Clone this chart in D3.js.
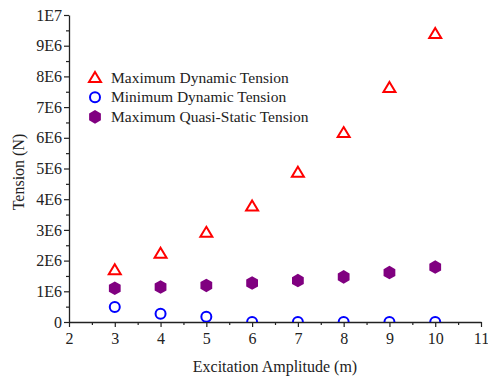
<!DOCTYPE html>
<html>
<head>
<meta charset="utf-8">
<script src="https://cdn.jsdelivr.net/npm/d3@7"></script>
<style>
  body { margin: 0; background: #fff; }
  text { font-family: "Liberation Serif", "Times New Roman", serif; fill: #222; }
</style>
</head>
<body>
<div id="chart"></div>
<script>
// Data
const amplitude = [3, 4, 5, 6, 7, 8, 9, 10];
const maxDynamic = [1.70e6, 2.24e6, 2.92e6, 3.78e6, 4.88e6, 6.17e6, 7.64e6, 9.40e6];
const minDynamic = [0.49e6, 0.27e6, 0.17e6, 0, 0, 0, 0, 0];
const maxQuasiStatic = [1.10e6, 1.14e6, 1.19e6, 1.27e6, 1.35e6, 1.47e6, 1.61e6, 1.79e6];
const seriesNames = ["Maximum Dynamic Tension", "Minimum Dynamic Tension", "Maximum Quasi-Static Tension"];
const xTicks = [2, 3, 4, 5, 6, 7, 8, 9, 10, 11];
const yTicks = [0, 1e6, 2e6, 3e6, 4e6, 5e6, 6e6, 7e6, 8e6, 9e6, 1e7];
const yTickLabels = ["0", "1E6", "2E6", "3E6", "4E6", "5E6", "6E6", "7E6", "8E6", "9E6", "1E7"];

const width = 488, height = 378;
const margin = { top: 15, right: 7, bottom: 56, left: 69 };

const svg = d3.select("#chart")
    .append("svg")
    .attr("width", width)
    .attr("height", height);

const xScale = d3.scaleLinear()
    .domain([2, 11])
    .range([margin.left, width - margin.right]);

const yScale = d3.scaleLinear()
    .domain([0, 1e7])
    .range([height - margin.bottom, margin.top]);

// clip so points sitting on zero are cut by the axis
svg.append("clipPath").attr("id", "plot-clip")
    .append("rect")
    .attr("x", margin.left)
    .attr("y", margin.top - 10)
    .attr("width", width - margin.left - margin.right + 10)
    .attr("height", height - margin.bottom - margin.top + 10);

// minor ticks
const xMinor = d3.range(2.5, 11, 1);
const yMinor = d3.range(0.5e6, 1e7, 1e6);

svg.append("g")
    .attr("transform", `translate(0, ${yScale(0)})`)
    .call(d3.axisBottom(xScale).tickValues(xMinor).tickSize(3).tickFormat(""))
    .call(g => g.select(".domain").remove());

svg.append("g")
    .attr("transform", `translate(${margin.left}, 0)`)
    .call(d3.axisLeft(yScale).tickValues(yMinor).tickSize(3).tickFormat(""))
    .call(g => g.select(".domain").remove());

// major axes
const xAxis = svg.append("g")
    .attr("transform", `translate(0, ${yScale(0)})`)
    .call(d3.axisBottom(xScale).tickValues(xTicks).tickSize(5).tickSizeOuter(0).tickPadding(6).tickFormat(d3.format("d")));
xAxis.selectAll("text").style("font-size", "16px").attr("font-family", null);

const yAxis = svg.append("g")
    .attr("transform", `translate(${margin.left}, 0)`)
    .call(d3.axisLeft(yScale).tickValues(yTicks).tickSize(5).tickSizeOuter(0).tickPadding(2)
        .tickFormat((d, i) => yTickLabels[i]));
yAxis.selectAll("text").style("font-size", "16px").attr("font-family", null);

svg.selectAll(".domain").attr("stroke", "#222").attr("stroke-width", 1.3);
svg.selectAll(".tick line").attr("stroke", "#222").attr("stroke-width", 1.2);

// axis titles
svg.append("text")
    .attr("x", (xScale(2) + xScale(11)) / 2)
    .attr("y", 372)
    .style("text-anchor", "middle")
    .style("font-size", "16px")
    .text("Excitation Amplitude (m)");

svg.append("text")
    .attr("transform", "rotate(-90)")
    .attr("x", -172)
    .attr("y", 24)
    .style("text-anchor", "middle")
    .style("font-size", "16px")
    .text("Tension (N)");

// marker shapes
const triangle = "M0,-5.5L6,4.5L-6,4.5Z";
const hexR = 6.8;
const hexagon = d3.line()(d3.range(6).map(k => {
    const a = (-90 + 60 * k) * Math.PI / 180;
    return [hexR * Math.cos(a), hexR * Math.sin(a)];
})) + "Z";

const plot = svg.append("g").attr("clip-path", "url(#plot-clip)");

plot.selectAll(".quasi")
    .data(amplitude)
    .enter()
    .append("path")
    .attr("class", "quasi")
    .attr("d", hexagon)
    .attr("transform", (d, i) => `translate(${xScale(d)}, ${yScale(maxQuasiStatic[i])})`)
    .attr("fill", "#800080");

plot.selectAll(".mindyn")
    .data(amplitude)
    .enter()
    .append("circle")
    .attr("class", "mindyn")
    .attr("cx", d => xScale(d))
    .attr("cy", (d, i) => yScale(minDynamic[i]))
    .attr("r", 5)
    .attr("fill", "none")
    .attr("stroke", "#0000ff")
    .attr("stroke-width", 2);

plot.selectAll(".maxdyn")
    .data(amplitude)
    .enter()
    .append("path")
    .attr("class", "maxdyn")
    .attr("d", triangle)
    .attr("transform", (d, i) => `translate(${xScale(d)}, ${yScale(maxDynamic[i])})`)
    .attr("fill", "none")
    .attr("stroke", "#ff0000")
    .attr("stroke-width", 2);

// legend
const legend = svg.selectAll(".legend")
    .data(seriesNames)
    .enter().append("g")
    .attr("class", "legend")
    .attr("transform", (d, i) => `translate(95, ${77.5 + i * 19.7})`);

legend.each(function(d, i) {
    const g = d3.select(this);
    if (i === 0) {
        g.append("path").attr("d", triangle).attr("fill", "none")
            .attr("stroke", "#ff0000").attr("stroke-width", 2);
    } else if (i === 1) {
        g.append("circle").attr("r", 5).attr("fill", "none")
            .attr("stroke", "#0000ff").attr("stroke-width", 2);
    } else {
        g.append("path").attr("d", hexagon).attr("fill", "#800080");
    }
});

legend.append("text")
    .attr("x", 16)
    .attr("y", 5)
    .style("font-size", "15.5px")
    .text(d => d);
</script>
</body>
</html>
